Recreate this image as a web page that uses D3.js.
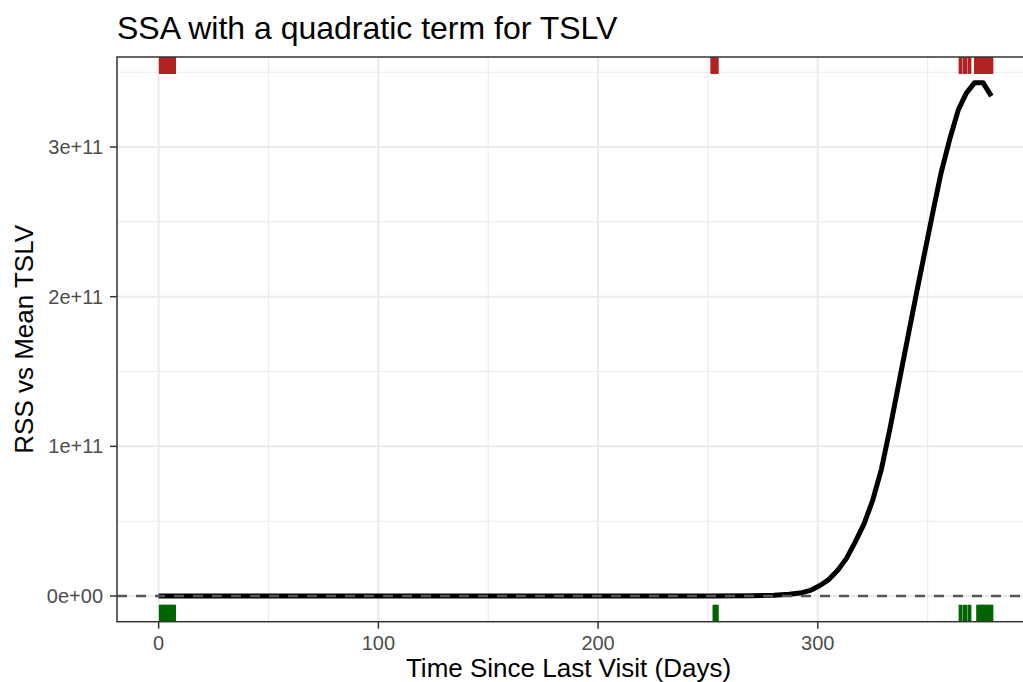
<!DOCTYPE html>
<html>
<head>
<meta charset="utf-8">
<script src="https://cdn.jsdelivr.net/npm/d3@7"></script>
<style>
  body { margin: 0; background: #fff; }
  svg { display: block; font-family: "Liberation Sans", Arial, sans-serif; }
  .grid-major { stroke: #ebebeb; stroke-width: 2; }
  .grid-minor { stroke: #ebebeb; stroke-width: 1.1; }
  .tick-label { fill: #4d4d4d; font-size: 20px; }
  .axis-title { fill: #000; font-size: 26px; }
</style>
</head>
<body>
<div id="chart"></div>
<script>
// fitted curve, days vs RSS
const curveDays = [0, 100, 200, 250, 270, 280, 287, 292, 297, 301, 305, 309, 313, 317, 321, 325,
  329, 333, 337, 341, 345, 349, 353, 356, 360, 364, 367.6, 371.4, 375.2, 379];
const curveRss = [0, 0, 0, 0.0005e11, 0.002e11, 0.006e11, 0.012e11, 0.02e11, 0.04e11, 0.07e11,
  0.11e11, 0.17e11, 0.25e11, 0.36e11, 0.48e11, 0.64e11, 0.85e11, 1.13e11, 1.43e11, 1.73e11,
  2.03e11, 2.32e11, 2.61e11, 2.82e11, 3.05e11, 3.25e11, 3.36e11, 3.43e11, 3.43e11, 3.34e11];

// rug positions
const rugTop = [1, 2, 3, 4, 5, 6, 7, 252, 253, 254, 365, 367, 369, 372, 373, 374, 375, 376, 377, 378, 379];
const rugBottom = [1, 2, 3, 4, 5, 6, 7, 253, 254, 365, 367, 369, 373, 374, 375, 376, 377, 378, 379];

const xTicks = [0, 100, 200, 300];
const xMinor = [50, 150, 250, 350];
const yTicks = [0, 1e11, 2e11, 3e11];
const yTickLabels = ['0e+00', '1e+11', '2e+11', '3e+11'];
const yMinor = [0.5e11, 1.5e11, 2.5e11, 3.5e11];

const width = 1023, height = 682;
const panel = { left: 117, top: 57, right: 1033, bottom: 621.7 };

const svg = d3.select('#chart').append('svg')
  .attr('width', width)
  .attr('height', height);

// ggplot style 5% expansion
const xExt = [0, 379];
const xPad = (xExt[1] - xExt[0]) * 0.05;
const x = d3.scaleLinear()
  .domain([xExt[0] - xPad, xExt[1] + xPad])
  .range([panel.left, panel.right]);

const yExt = d3.extent(curveRss);
const yPad = (yExt[1] - yExt[0]) * 0.05;
const y = d3.scaleLinear()
  .domain([yExt[0] - yPad, yExt[1] + yPad])
  .range([panel.bottom, panel.top]);

const pw = panel.right - panel.left, ph = panel.bottom - panel.top;

const plot = svg.append('g');

// grid
plot.selectAll('.gx-minor').data(xMinor).enter().append('line')
  .attr('class', 'grid-minor')
  .attr('x1', d => x(d)).attr('x2', d => x(d))
  .attr('y1', panel.top).attr('y2', panel.bottom);
plot.selectAll('.gy-minor').data(yMinor).enter().append('line')
  .attr('class', 'grid-minor')
  .attr('x1', panel.left).attr('x2', panel.right)
  .attr('y1', d => y(d)).attr('y2', d => y(d));
plot.selectAll('.gx-major').data(xTicks).enter().append('line')
  .attr('class', 'grid-major')
  .attr('x1', d => x(d)).attr('x2', d => x(d))
  .attr('y1', panel.top).attr('y2', panel.bottom);
plot.selectAll('.gy-major').data(yTicks).enter().append('line')
  .attr('class', 'grid-major')
  .attr('x1', panel.left).attr('x2', panel.right)
  .attr('y1', d => y(d)).attr('y2', d => y(d));

// rugs (3% of panel height, like geom_rug)
const rugLen = ph * 0.03;
plot.selectAll('.rug-top').data(rugTop).enter().append('line')
  .attr('x1', d => x(d)).attr('x2', d => x(d))
  .attr('y1', panel.top).attr('y2', panel.top + rugLen)
  .attr('stroke', '#b22222').attr('stroke-width', 4);
plot.selectAll('.rug-bottom').data(rugBottom).enter().append('line')
  .attr('x1', d => x(d)).attr('x2', d => x(d))
  .attr('y1', panel.bottom - rugLen).attr('y2', panel.bottom)
  .attr('stroke', '#006400').attr('stroke-width', 4);

// curve
const line = d3.line()
  .x((d, i) => x(curveDays[i]))
  .y(d => y(d));
plot.append('path')
  .datum(curveRss)
  .attr('d', line)
  .attr('fill', 'none')
  .attr('stroke', '#000')
  .attr('stroke-width', 5)
  .attr('stroke-linejoin', 'round');

// zero reference
plot.append('line')
  .attr('x1', panel.left).attr('x2', panel.right)
  .attr('y1', y(0)).attr('y2', y(0))
  .attr('stroke', '#555')
  .attr('stroke-width', 2.4)
  .attr('stroke-dasharray', '10,9');

// panel border
plot.append('rect')
  .attr('x', panel.left).attr('y', panel.top)
  .attr('width', pw).attr('height', ph)
  .attr('fill', 'none').attr('stroke', '#333').attr('stroke-width', 1.5);

// axes
const xAxis = svg.append('g');
xAxis.selectAll('line').data(xTicks).enter().append('line')
  .attr('x1', d => x(d)).attr('x2', d => x(d))
  .attr('y1', panel.bottom).attr('y2', panel.bottom + 7)
  .attr('stroke', '#333').attr('stroke-width', 1.5);
xAxis.selectAll('text').data(xTicks).enter().append('text')
  .attr('class', 'tick-label')
  .attr('x', d => x(d)).attr('y', panel.bottom + 28)
  .attr('text-anchor', 'middle')
  .text(d => d);

const yAxis = svg.append('g');
yAxis.selectAll('line').data(yTicks).enter().append('line')
  .attr('x1', panel.left - 7).attr('x2', panel.left)
  .attr('y1', d => y(d)).attr('y2', d => y(d))
  .attr('stroke', '#333').attr('stroke-width', 1.5);
yAxis.selectAll('text').data(yTicks).enter().append('text')
  .attr('class', 'tick-label')
  .attr('x', panel.left - 14).attr('y', d => y(d) + 7)
  .attr('text-anchor', 'end')
  .text((d, i) => yTickLabels[i]);

// titles
svg.append('text')
  .attr('x', panel.left).attr('y', 39)
  .attr('font-size', 32)
  .text('SSA with a quadratic term for TSLV');

svg.append('text')
  .attr('class', 'axis-title')
  .attr('x', (panel.left + 1020) / 2).attr('y', 677)
  .attr('text-anchor', 'middle')
  .text('Time Since Last Visit (Days)');

svg.append('text')
  .attr('class', 'axis-title')
  .attr('transform', `translate(33,${(panel.top + panel.bottom) / 2}) rotate(-90)`)
  .attr('text-anchor', 'middle')
  .text('RSS vs Mean TSLV');
</script>
</body>
</html>
